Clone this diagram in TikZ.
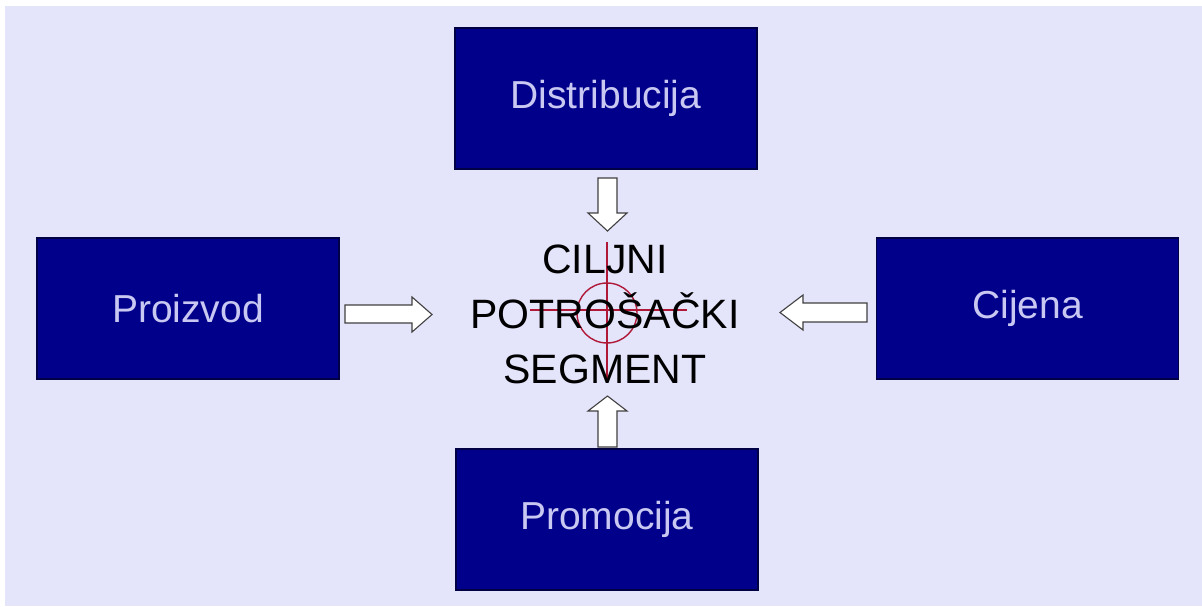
\documentclass[tikz,border=0pt]{standalone}
\usepackage{fontspec}
\setmainfont{Liberation Sans}
\definecolor{bgcol}{HTML}{E4E4FA}
\definecolor{boxfill}{HTML}{00008A}
\definecolor{boxline}{HTML}{000045}
\definecolor{boxtext}{HTML}{C8C8F2}
\definecolor{crossred}{HTML}{B01838}
\begin{document}
\begin{tikzpicture}[x=1pt,y=-1pt,
  mixbox/.style={draw=boxline,line width=1.2pt,fill=boxfill,text=boxtext,
    minimum width=302pt,minimum height=141pt,inner sep=0pt,
    font=\fontsize{39}{46}\selectfont},
  blockarrow/.style={draw=black!75,line width=1.1pt,fill=white,line join=miter},
  crossline/.style={crossred,line width=1.4pt}]
\useasboundingbox (0,0) rectangle (1202,606);
\fill[white] (0,0) rectangle (1202,606);
\fill[bgcol] (5,6) rectangle (1202,606);
% boxes
\node[mixbox] (dist) at (606,98.5) {\raisebox{-4pt}{Distribucija}};
\node[mixbox] (proiz) at (188,308.5) {\raisebox{-2pt}{Proizvod}};
\node[mixbox] (cij) at (1027.5,308.5) {\raisebox{-2pt}{Cijena}};
\node[mixbox] (prom) at (607,519.5) {\raisebox{-3pt}{Promocija}};
% crosshair
\draw[crossline] (607,313) circle (30);
\draw[crossline] (607,242) -- (607,383);
\draw[crossline] (530,310) -- (687,310);
% center text
\node[align=center,inner sep=0pt,font=\fontsize{41}{55}\selectfont] (seg) at (605,314)
  {CILJNI\\POTROŠAČKI\\SEGMENT};
% block arrows
\draw[blockarrow] (598,178) -- (617,178) -- (617,213) -- (627,213) -- (607.5,231)
  -- (588,213) -- (598,213) -- cycle;
\draw[blockarrow] (598,447) -- (617,447) -- (617,411) -- (627,411) -- (607.5,396)
  -- (588,411) -- (598,411) -- cycle;
\draw[blockarrow] (345,305) -- (412,305) -- (412,297) -- (432,314.5) -- (412,332)
  -- (412,323) -- (345,323) -- cycle;
\draw[blockarrow] (867,303) -- (803,303) -- (803,295) -- (780,312.5) -- (803,330)
  -- (803,322) -- (867,322) -- cycle;
\end{tikzpicture}
\end{document}
